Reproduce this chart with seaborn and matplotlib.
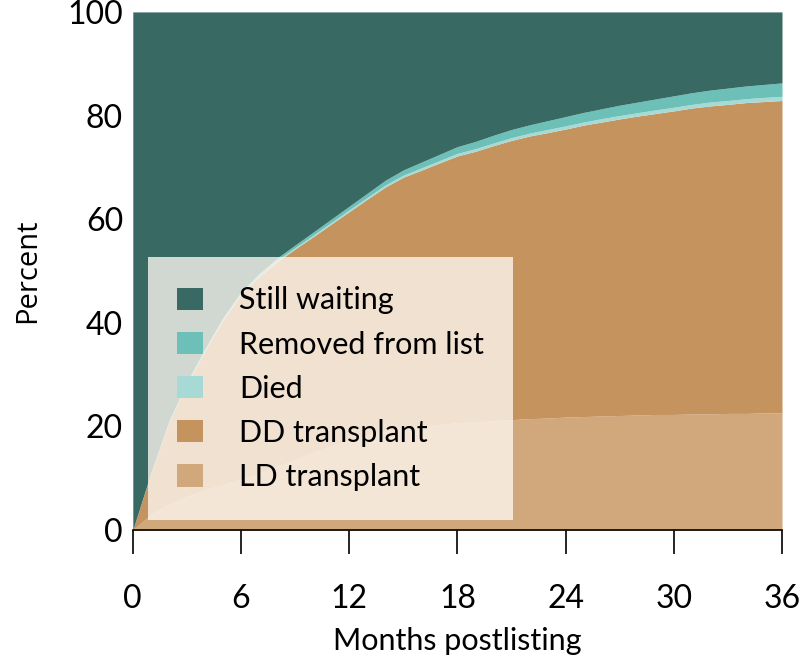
import matplotlib.pyplot as plt
import seaborn as sns
from matplotlib.patches import Patch

# months after listing, 0..36
months = list(range(37))

ld_transplant = [0, 3, 5, 6.5, 7.8, 8.8, 9.8, 11, 12.3, 13.6, 15, 16.3, 17.4, 18.3, 19, 19.6,
                 20, 20.4, 20.7, 20.9, 21.1, 21.3, 21.5, 21.6, 21.8, 21.9, 22, 22.1, 22.2,
                 22.3, 22.3, 22.4, 22.4, 22.5, 22.5, 22.6, 22.6]
dd_transplant = [0, 7.85, 15.75, 21.7, 26.8, 31.75, 35.65, 37.9, 39.5, 40.65, 41.6, 42.75,
                 44.05, 45.55, 47.2, 48.5, 49.45, 50.45, 51.5, 52.2, 53.1, 53.9, 54.55, 55.1,
                 55.6, 56.25, 56.75, 57.25, 57.7, 58.1, 58.6, 59.05, 59.45, 59.65, 60.0, 60.1,
                 60.3]
died = [0, 0.05, 0.1, 0.1, 0.15, 0.15, 0.2, 0.2, 0.25, 0.25, 0.3, 0.3, 0.35, 0.35, 0.4, 0.4,
        0.45, 0.45, 0.5, 0.5, 0.5, 0.55, 0.55, 0.6, 0.6, 0.6, 0.65, 0.65, 0.65, 0.7, 0.7, 0.7,
        0.75, 0.75, 0.75, 0.8, 0.8]
removed = [0, 0.1, 0.15, 0.2, 0.25, 0.3, 0.35, 0.4, 0.45, 0.5, 0.6, 0.65, 0.7, 0.8, 0.9, 1.0,
           1.1, 1.2, 1.3, 1.4, 1.5, 1.55, 1.6, 1.7, 1.8, 1.85, 1.9, 2.0, 2.05, 2.1, 2.2, 2.25,
           2.3, 2.4, 2.45, 2.5, 2.6]
still_waiting = [100, 89, 79, 71.5, 65, 59, 54, 50.5, 47.5, 45, 42.5, 40, 37.5, 35, 32.5, 30.5,
                 29, 27.5, 26, 25, 23.8, 22.7, 21.8, 21, 20.2, 19.4, 18.7, 18, 17.4, 16.8, 16.2,
                 15.6, 15.1, 14.7, 14.3, 14, 13.7]

labels = ["LD transplant", "DD transplant", "Died", "Removed from list", "Still waiting"]
colors = ["#D1A77C", "#C4935E", "#A8DAD5", "#6DC0B8", "#386A63"]
x_ticks = [0, 6, 12, 18, 24, 30, 36]
y_ticks = [0, 20, 40, 60, 80, 100]

sns.set_theme(style="white")
plt.rcParams["font.family"] = ["Lato", "DejaVu Sans"]
plt.rcParams["text.color"] = "black"
plt.rcParams["xtick.color"] = "black"
plt.rcParams["ytick.color"] = "black"
plt.rcParams["axes.labelcolor"] = "black"

fig = plt.figure(figsize=(8, 6.62), dpi=100)
ax = fig.add_axes([0.166, 0.1994, 0.8115, 0.7826])

ax.stackplot(months, ld_transplant, dd_transplant, died, removed, still_waiting,
             colors=colors, linewidth=0)

ax.set_xlim(0, 36)
ax.set_ylim(0, 100)
ax.set_xticks(x_ticks)
ax.set_yticks(y_ticks)
ax.tick_params(axis="x", direction="out", length=17, width=1.2,
               labelsize=23, pad=22, bottom=True)
ax.tick_params(axis="y", length=0, labelsize=23, pad=7)
for side in ["left", "top", "right"]:
    ax.spines[side].set_visible(False)
ax.spines["bottom"].set_color("black")
ax.spines["bottom"].set_linewidth(1.2)

ax.set_xlabel("Months postlisting", fontsize=22, labelpad=9)
ax.set_ylabel("Percent", fontsize=21, family=["Open Sans", "DejaVu Sans"], labelpad=18)

handles = [Patch(facecolor=c, edgecolor="none") for c in colors]
leg = ax.legend(handles[::-1], labels[::-1], loc="lower left",
                bbox_to_anchor=(0.023, 0.019), fontsize=22, frameon=True,
                fancybox=False, borderpad=0.95, labelspacing=0.53,
                handlelength=0.85, handleheight=0.75, handletextpad=1.2,
                borderaxespad=0)
frame = leg.get_frame()
frame.set_facecolor("#FDF8F2")
frame.set_alpha(0.78)
frame.set_edgecolor("none")

fig.savefig("out.png", dpi=100)
